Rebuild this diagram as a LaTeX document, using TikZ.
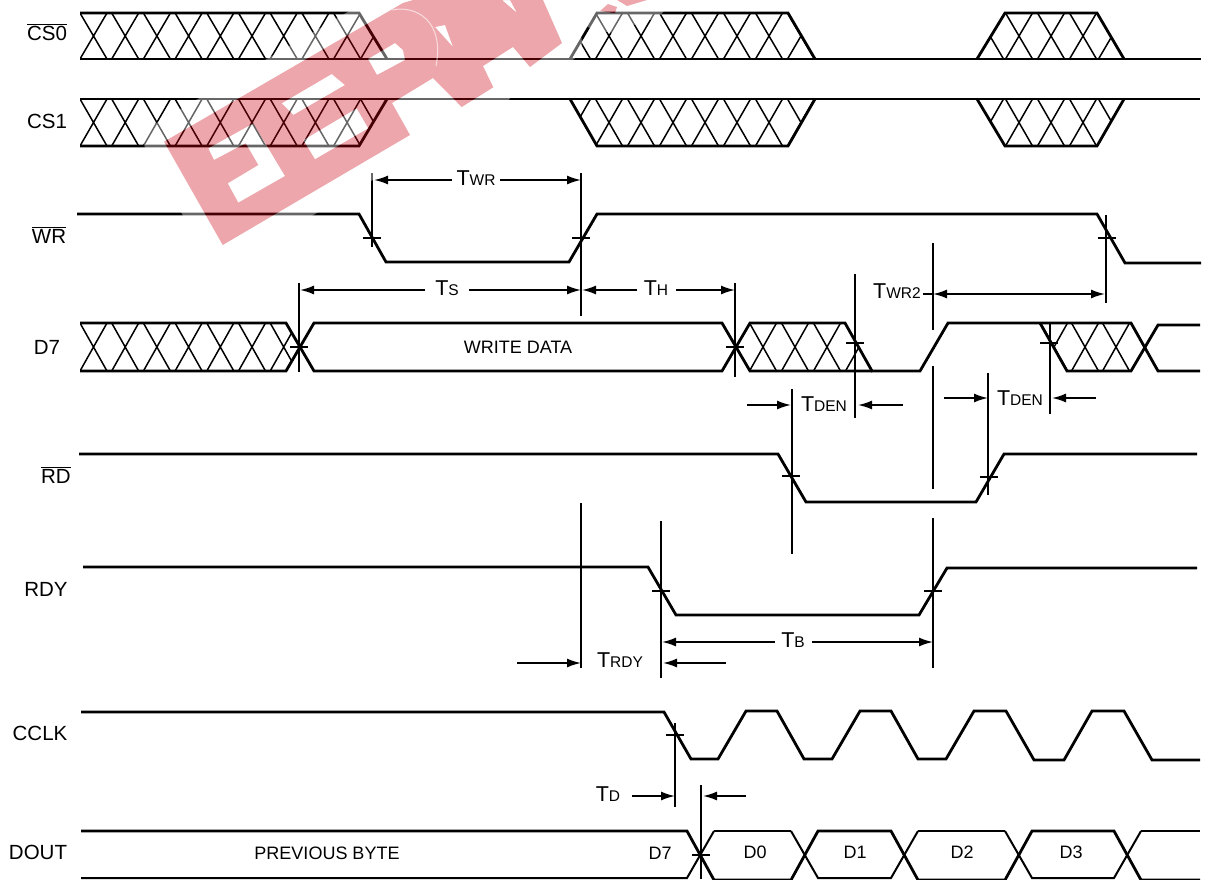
\documentclass[tikz,border=0pt]{standalone}
\usepackage{fontspec}
\setmainfont{Liberation Sans}
\usetikzlibrary{arrows.meta}
\definecolor{wm}{RGB}{203,0,14}
\tikzset{
  sig/.style={line width=2.8pt,line join=miter,black},
  hatchline/.style={line width=1.5pt,black},
  thin tick/.style={line width=1.7pt,black},
  dim/.style={line width=1.7pt,black,-{Latex[length=14pt,width=9pt]}},
  dimboth/.style={line width=1.7pt,black,{Latex[length=14pt,width=9pt]}-{Latex[length=14pt,width=9pt]}},
  dimplain/.style={line width=1.7pt,black},
  siglabel/.style={font=\fontsize{20.5}{21}\selectfont,inner sep=0pt,anchor=center},
  dimlabel/.style={inner sep=0pt,anchor=center},
  cell/.style={font=\fontsize{18}{18}\selectfont,inner sep=0pt,anchor=center},
}
\newcommand{\Tlab}[1]{{\fontsize{21.5}{22}\selectfont T}{\fontsize{15.5}{16}\selectfont #1}}
\newcommand{\hatched}[4]{% polygon path, centres, top, bottom
  \begin{scope}\clip #1;
    \foreach \c in {#2}
      \draw[hatchline] (\c-13.5,#3)--(\c+13.5,#4) (\c+13.5,#3)--(\c-13.5,#4);
  \end{scope}}
\newcommand{\wmshape}{%
  (164,141.7)--(222.7,245)--(410,135)--(392,103)--(433,78)--(461.7,107)--(493.3,87.3)--(483,66)--(513,47)--(530,67)--(562,43)--(543,0)--(413,0)--(403,3)--cycle
  (208.3,148.3)--(253.3,123.3)--(285,176)--(238.3,202.7)--(227.7,183.3)--(258.3,165)--(245.7,143.3)--(214,160)--cycle
  (281.7,103.3)--(331.7,74)--(345,85)--(293.3,115)--cycle
  (315,159.3)--(368.3,128.3)--(356.7,108.3)--(303.3,140)--cycle
  (377,75)--(405,60)--(403,50)--(395,43)--(368,59)--cycle
  (435,27)--(453,47)--(445,25)--cycle
  (502,0)--(517,13)--(510,0)--cycle
  (600,11)--(615,13)--(617,7)--(608,4)--cycle
  (617,0)--(627,6)--(647,0)--cycle}
\begin{document}
\begin{tikzpicture}[x=1pt,y=-1pt]
\useasboundingbox (0,0) rectangle (1209,879);
% ---- signal labels
\node[siglabel] (lcs0) at (47,32) {$\overline{\hbox{CS0}}$};
\node[siglabel] (lcs1) at (47,121) {CS1};
\node[siglabel] (lwr) at (49,235) {$\overline{\hbox{WR}}$};
\node[siglabel] (ld7) at (47,347) {D7};
\node[siglabel] (lrd) at (56,475) {$\overline{\hbox{RD}}$};
\node[siglabel] (lrdy) at (46,589) {RDY};
\node[siglabel] (lcclk) at (40,733) {CCLK};
\node[siglabel] (ldout) at (38,852) {DOUT};
% ---- CS0
\hatched{(80,13)--(359,13)--(387,59)--(80,59)--cycle}{93.5,125.2,156.9,188.6,220.3,252,283.7,315.4,347.1,374}{13}{59}
\hatched{(570,59)--(597,13)--(788,13)--(815,59)--cycle}{577,609,641,673,705,737,769,801}{13}{59}
\hatched{(977,59)--(1005,13)--(1097,13)--(1124,59)--cycle}{990,1019,1051,1083,1112}{13}{59}
\draw[sig] (80,13)--(359,13)--(387,59);
\draw[sig] (80,59)--(1201,59);
\draw[sig] (570,59)--(597,13)--(788,13)--(815,59);
\draw[sig] (977,59)--(1005,13)--(1097,13)--(1124,59);
% ---- CS1
\hatched{(80,99)--(387,99)--(359,146)--(80,146)--cycle}{93.5,125.2,156.9,188.6,220.3,252,283.7,315.4,347.1,374}{99}{146}
\hatched{(570,99)--(815,99)--(788,146)--(597,146)--cycle}{577,609,641,673,705,737,769,801}{99}{146}
\hatched{(977,99)--(1124,99)--(1097,146)--(1005,146)--cycle}{990,1019,1051,1083,1112}{99}{146}
\draw[sig] (80,99)--(1200,99);
\draw[sig] (80,146)--(359,146)--(387,99);
\draw[sig] (570,99)--(597,146)--(788,146)--(815,99);
\draw[sig] (977,99)--(1005,146)--(1097,146)--(1124,99);
% ---- WR
\draw[sig] (77,214)--(359,214)--(386,262)--(569,262)--(597,214)--(1097,214)--(1125,263)--(1201,263);
% ---- D7
\hatched{(80,323)--(286,323)--(299,347)--(286,371)--(80,371)--cycle}{93.5,125.2,156.9,188.6,220.3,252,283.7}{323}{371}
\hatched{(750,323)--(845,323)--(872,371)--(750,371)--(736,347)--cycle}{763,795,827,859}{323}{371}
\hatched{(1040,323)--(1131,323)--(1145,347)--(1131,371)--(1067,371)--cycle}{1054,1085,1116}{323}{371}
\draw[sig] (80,323)--(286,323)--(314,371)--(722,371)--(750,323)--(845,323)--(872,371)--(920,371)--(948,323)--(1131,323)--(1158,371)--(1200,371);
\draw[sig] (80,371)--(286,371)--(314,323)--(722,323)--(750,371)--(872,371);
\draw[sig] (1040,323)--(1067,371)--(1131,371)--(1158,325)--(1200,325);
\node[cell] (wd) at (518,347) {WRITE DATA};
% ---- RD, RDY
\draw[sig] (79,454)--(778,454)--(806,502)--(976,502)--(1004,454)--(1197,454);
\draw[sig] (83,567)--(648,567)--(676,615)--(919,615)--(947,568)--(1197,568);
% ---- CCLK
\draw[sig] (81,712)--(664,712)--(691,759)--(718,759)--(746,711)--(777,711)--(804,759)--(832,759)--(860,711)--(891,711)--(918,759)--(946,759)--(974,711)--(1006,711)--(1034,760)--(1064,760)--(1092,711)--(1124,711)--(1152,760)--(1200,760);
% ---- DOUT
\draw[sig] (81,831)--(687,831)--(714,880)--(791,880)--(818,831)--(891,831)--(918,880)--(1005,880)--(1032,831)--(1114,831)--(1141,880)--(1200,880);
\draw[sig,line width=2pt] (81,878)--(687,878)--(714,831) (791,831)--(818,878)--(891,878)--(918,831) (1005,831)--(1032,878)--(1114,878)--(1141,831);
\draw[sig] (714,831)--(791,831) (918,831)--(1005,831) (1141,831)--(1200,831);
\node[cell] (prev) at (327,853) {PREVIOUS BYTE};
\node[cell] (d7) at (660,853) {D7};
\node[cell] (d0) at (755,852) {D0};
\node[cell] (d1) at (855,852) {D1};
\node[cell] (d2) at (962,852) {D2};
\node[cell] (d3) at (1071,852) {D3};
% ---- reference verticals
\foreach \x/\a/\b in {372/173/247,581/173/316,1106/215/303,299/283/372,735/283/377,855/274/418,1050/323/414,792/389/554,988/373/495,581/503/668,661/521/678,933/243/330,933/366/489,933/518/668,675/723/807,701/785/879}
  \draw[thin tick] (\x,\a)--(\x,\b);
% ---- crossing ticks
\foreach \x/\y in {372/238,581/238,1107/238,299/347,735/347,855/343,1049/343,791/476,989/477,661/591,933/591,675/735,701/855}
  \draw[thin tick] (\x-9,\y)--(\x+9,\y);
% ---- dimension labels and arrows
\coordinate (a372) at (374,180);\coordinate (a581) at (581,180);
\node[dimlabel] (twr) at (476,178) {\Tlab{WR}};
\draw[dim] (twr.west)++(-4,2)--(a372);
\draw[dim] (twr.east)++(4,2)--(a581);
\coordinate (s299) at (300,290);\coordinate (s581) at (581,290);
\node[dimlabel] (ts) at (447,288) {\Tlab{S}};
\draw[dim] (ts.west)++(-10,2)--(s299);
\draw[dim] (ts.east)++(10,2)--(s581);
\coordinate (h581) at (582,290);\coordinate (h735) at (735,290);
\node[dimlabel] (th) at (656,288) {\Tlab{H}};
\draw[dim] (th.west)++(-7,2)--(h581);
\draw[dim] (th.east)++(8,2)--(h735);
\node[dimlabel] (twr2) at (897,291) {\Tlab{WR2}};
\coordinate (w933) at (933,294);\coordinate (w1106) at (1105,294);
\draw[dimplain] (twr2.east)++(2,3)--(w933);
\draw[dimboth] (w933)--(w1106);
\node[dimlabel] (td1) at (824,404) {\Tlab{DEN}};
\coordinate (d1a) at (747,405);\coordinate (d1b) at (791,405);\coordinate (d1c) at (903,405);\coordinate (d1d) at (858,405);
\draw[dim] (d1a)--(d1b);
\draw[dim] (d1c)--(d1d);
\node[dimlabel] (td2) at (1020,398) {\Tlab{DEN}};
\coordinate (d2a) at (944,398);\coordinate (d2b) at (988,398);\coordinate (d2c) at (1096,398);\coordinate (d2d) at (1052,398);
\draw[dim] (d2a)--(d2b);
\draw[dim] (d2c)--(d2d);
\node[dimlabel] (tb) at (793,640) {\Tlab{B}};
\coordinate (b661) at (662,642);\coordinate (b933) at (933,642);
\draw[dim] (tb.west)++(-6,2)--(b661);
\draw[dim] (tb.east)++(7,2)--(b933);
\node[dimlabel] (trdy) at (620,660) {\Tlab{RDY}};
\coordinate (r1) at (517,663);\coordinate (r2) at (581,663);\coordinate (r3) at (726,663);\coordinate (r4) at (663,663);
\draw[dim] (r1)--(r2);
\draw[dim] (r3)--(r4);
\node[dimlabel] (tdl) at (608,794) {\Tlab{D}};
\coordinate (t1) at (632,796);\coordinate (t2) at (675,796);\coordinate (t3) at (746,796);\coordinate (t4) at (703,796);
\draw[dim] (t1)--(t2);
\draw[dim] (t3)--(t4);
% ---- watermark
\begin{scope}[even odd rule]
  \clip (0,0) rectangle (1209,879) \wmshape;
  \draw[white,opacity=.4,line width=40pt,line join=round] \wmshape;
\end{scope}
\fill[wm,opacity=.345,even odd rule] \wmshape;
\draw[white,line width=1pt,opacity=.6] (392,10) .. controls (415,5) and (445,20) .. (436,66);
\end{tikzpicture}
\end{document}
